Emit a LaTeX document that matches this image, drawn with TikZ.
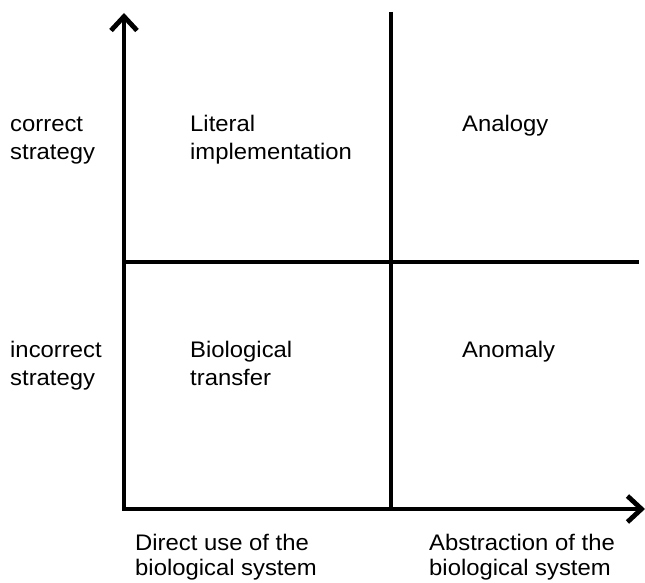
\documentclass[tikz,border=0pt]{standalone}
\usepackage{fontspec}
\setmainfont{Liberation Sans}[FakeStretch=1.06]
\usetikzlibrary{arrows.meta}
\begin{document}
\begin{tikzpicture}[x=1bp,y=-1bp,
  barb/.tip={Straight Barb[length=14bp,width=26bp]},
  axis/.style={line width=4.8bp, line join=miter},
  divider/.style={line width=4.8bp},
  lbl/.style={anchor=base west, inner sep=0pt, align=left,
    font=\fontsize{22.5bp}{28bp}\selectfont},
  tight/.style={font=\fontsize{22.5bp}{24.5bp}\selectfont}]
  \useasboundingbox (0,0) rectangle (645,583);

  % axes
  \coordinate (O) at (124,509);
  \coordinate (ytop) at (124,13);
  \coordinate (xend) at (645,509);
  \draw[axis, barb-barb] (ytop) -- (O) -- (xend);

  % quadrant dividers
  \coordinate (vtop) at (391,12);
  \coordinate (vbot) at (391,509);
  \coordinate (hleft) at (124,262);
  \coordinate (hright) at (639,262);
  \draw[divider] (vtop) -- (vbot);
  \draw[divider] (hleft) -- (hright);

  % row labels (anchored at the baseline of the last line)
  \node[lbl] (correct) at (10,160) {correct\\strategy};
  \node[lbl] (incorrect) at (10,385) {incorrect\\strategy};

  % quadrant labels
  \node[lbl] (literal) at (190,160) {Literal\\implementation};
  \node[lbl] (analogy) at (462,132) {Analogy};
  \node[lbl] (biotransfer) at (190,385) {Biological\\transfer};
  \node[lbl] (anomaly) at (462,357) {Anomaly};

  % column labels
  \node[lbl, tight] (direct) at (135,575) {Direct use of the\\biological system};
  \node[lbl, tight] (abstraction) at (429,575) {Abstraction of the\\biological system};
\end{tikzpicture}
\end{document}
